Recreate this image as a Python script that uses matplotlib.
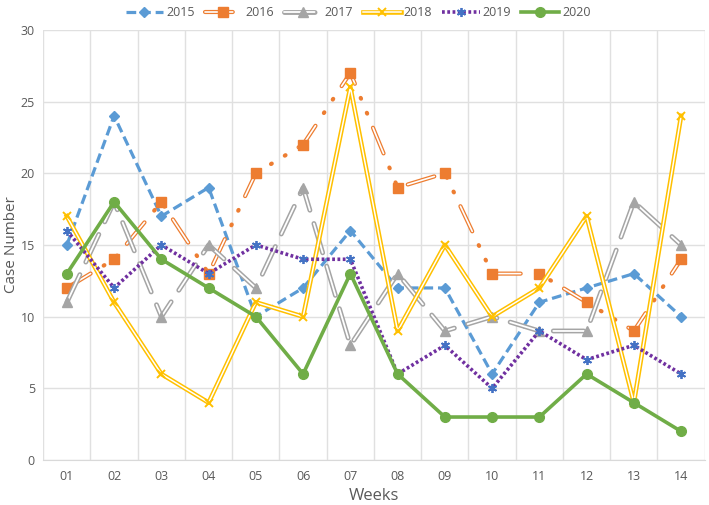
import matplotlib.pyplot as plt
import numpy as np

plt.rcParams['lines.scale_dashes'] = False
plt.rcParams['font.family'] = ['Open Sans', 'DejaVu Sans']

weeks = ['01', '02', '03', '04', '05', '06', '07', '08', '09', '10', '11', '12', '13', '14']

y2015 = [15, 24, 17, 19, 10, 12, 16, 12, 12, 6, 11, 12, 13, 10]
y2016 = [12, 14, 18, 13, 20, 22, 27, 19, 20, 13, 13, 11, 9, 14]
y2017 = [11, 18, 10, 15, 12, 19, 8, 13, 9, 10, 9, 9, 18, 15]
y2018 = [17, 11, 6, 4, 11, 10, 26, 9, 15, 10, 12, 17, 4, 24]
y2019 = [16, 12, 15, 13, 15, 14, 14, 6, 8, 5, 9, 7, 8, 6]
y2020 = [13, 18, 14, 12, 10, 6, 13, 6, 3, 3, 3, 6, 4, 2]

blue = '#5B9BD5'
orange = '#ED7D31'
gray = '#A5A5A5'
yellow = '#FFC000'
purple = '#7030A0'
mblue = '#4472C4'
green = '#70AD47'
txt = '#595959'

x = np.arange(len(weeks))

fig = plt.figure(figsize=(7.09, 5.05), dpi=100)
ax = fig.add_axes([0.061, 0.089, 0.933, 0.852])

handles = []

# 2015 - dashed blue with diamonds
l1, = ax.plot(x, y2015, color=blue, lw=2.3, ls=(0, (7, 3.5)), zorder=3)
m1, = ax.plot(x, y2015, ls='none', marker='D', ms=5, color=blue, zorder=3.1)
handles.append((l1, m1))

# 2016 - hollow long dash + two dots, orange squares
o_out, = ax.plot(x, y2016, color=orange, lw=3, ls=(0, (20, 11, 0.6, 11, 0.6, 11)),
                 dash_capstyle='round', zorder=4)
o_in, = ax.plot(x, y2016, color='white', lw=1.2, ls=(0, (20, 34.2)),
                dash_capstyle='round', zorder=4.05)
m2, = ax.plot(x, y2016, ls='none', marker='s', ms=6.5, color=orange, zorder=4.1)
handles.append((o_out, o_in, m2))

# 2017 - hollow long dash, gray triangles
g_out, = ax.plot(x, y2017, color=gray, lw=3.5, ls=(0, (22, 10)),
                 dash_capstyle='round', zorder=5)
g_in, = ax.plot(x, y2017, color='white', lw=1.3, ls=(0, (22, 10)),
                dash_capstyle='round', zorder=5.05)
m3, = ax.plot(x, y2017, ls='none', marker='^', ms=6.5, color=gray, zorder=5.1)
handles.append((g_out, g_in, m3))

# 2018 - double yellow line with x markers
y_out, = ax.plot(x, y2018, color=yellow, lw=3.3, zorder=6)
y_in, = ax.plot(x, y2018, color='white', lw=1.1, zorder=6.05)
m4, = ax.plot(x, y2018, ls='none', marker='x', ms=5.5, mew=1.4, color=yellow, zorder=6.1)
handles.append((y_out, y_in, m4))

# 2019 - purple dotted with blue asterisks
l5, = ax.plot(x, y2019, color=purple, lw=2.6, ls=(0, (2, 1.8)), zorder=7)
m5, = ax.plot(x, y2019, ls='none', marker=(6, 2, 0), ms=6.5, mew=1.3, color=mblue, zorder=7.1)
handles.append((l5, m5))

# 2020 - solid green with circles
l6, = ax.plot(x, y2020, color=green, lw=2.6, marker='o', ms=7, zorder=8)
handles.append((l6,))

ax.set_xlim(-0.5, len(weeks) - 0.5)
ax.set_ylim(0, 30)
ax.set_yticks(range(0, 31, 5))
ax.set_xticks(x)
ax.set_xticklabels(weeks)
ax.set_xticks(np.arange(-0.5, len(weeks), 1), minor=True)
ax.grid(False)
ax.grid(axis='y', which='major', color='#E0E0E0', lw=1)
ax.grid(axis='x', which='minor', color='#E0E0E0', lw=1)
ax.tick_params(which='both', length=0, colors=txt, labelsize=9)
ax.tick_params(axis='x', pad=7)
ax.tick_params(axis='y', pad=6)
for s in ['top', 'right', 'left']:
    ax.spines[s].set_visible(False)
ax.spines['bottom'].set_color('#D9D9D9')
ax.set_axisbelow(True)

ax.set_xlabel('Weeks', fontsize=12, color=txt)
ax.set_ylabel('Case Number', fontsize=11, color=txt)
ax.xaxis.set_label_coords(0.5, -0.064)
ax.yaxis.set_label_coords(-0.036, 0.5)

fig.legend(handles, ['2015', '2016', '2017', '2018', '2019', '2020'],
           loc='center', bbox_to_anchor=(0.505, 0.975), ncol=6, frameon=False,
           fontsize=9, labelcolor=txt, handlelength=3.0, columnspacing=0.8,
           handletextpad=0.25)

fig.savefig('out.png', dpi=100)
